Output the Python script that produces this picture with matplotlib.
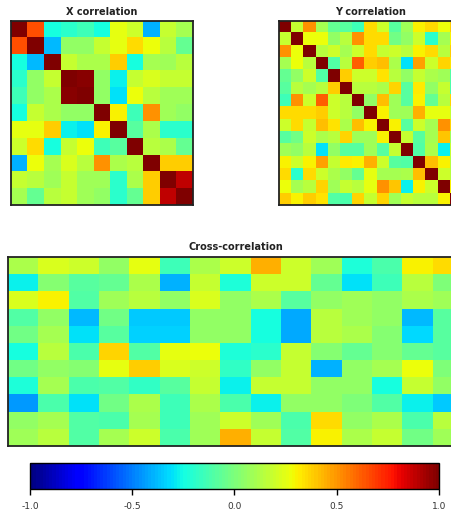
import numpy as np
import matplotlib
matplotlib.use("Agg")
import matplotlib.pyplot as plt
from matplotlib.colors import Normalize
from matplotlib.cm import ScalarMappable

plt.rcParams['font.family'] = ['DejaVu Sans']

# correlation among the 11 X variables
x_corr = [
    [1.00, 0.65, -0.25, -0.20, -0.15, -0.25, 0.25, 0.20, -0.40, 0.18, 0.10],
    [0.65, 1.00, -0.38, 0.05, 0.05, 0.18, 0.25, 0.35, 0.28, 0.15, -0.05],
    [-0.25, -0.38, 1.00, 0.18, 0.12, 0.12, 0.38, -0.25, 0.10, 0.08, 0.15],
    [-0.20, 0.05, 0.18, 1.00, 0.98, 0.05, -0.28, 0.18, 0.22, 0.18, 0.18],
    [-0.15, 0.05, 0.12, 0.98, 1.00, 0.05, -0.30, 0.28, 0.15, 0.08, 0.08],
    [-0.25, 0.18, 0.12, 0.05, 0.05, 1.00, 0.30, -0.15, 0.50, 0.08, 0.05],
    [0.25, 0.25, 0.38, -0.28, -0.30, 0.30, 1.00, -0.08, 0.12, -0.20, -0.20],
    [0.20, 0.35, -0.25, 0.18, 0.28, -0.15, -0.08, 1.00, 0.15, 0.12, -0.05],
    [-0.40, 0.28, 0.10, 0.22, 0.15, 0.50, 0.12, 0.15, 1.00, 0.38, 0.38],
    [0.18, 0.15, 0.08, 0.18, 0.08, 0.08, -0.20, 0.12, 0.38, 1.00, 0.88],
    [0.10, -0.05, 0.15, 0.18, 0.08, 0.05, -0.20, -0.05, 0.38, 0.88, 1.00],
]

# correlation among the 15 Y variables
y_corr = [
    [1.00, 0.18, 0.50, 0.10, -0.05, -0.08, -0.15, 0.35, 0.20, -0.08, 0.08, 0.30, 0.35, 0.28, 0.38],
    [0.18, 1.00, 0.28, 0.28, 0.05, 0.15, 0.50, 0.35, 0.35, -0.02, 0.05, 0.20, -0.20, 0.10, 0.30],
    [0.50, 0.28, 1.00, 0.15, 0.20, 0.10, 0.20, 0.35, 0.18, 0.20, 0.15, 0.30, 0.35, 0.15, 0.38],
    [0.10, 0.28, 0.15, 1.00, -0.10, 0.15, 0.62, 0.38, 0.42, 0.12, -0.30, 0.48, 0.20, 0.36, 0.33],
    [-0.05, 0.05, 0.20, -0.10, 1.00, 0.38, 0.20, 0.20, 0.33, 0.15, 0.05, 0.18, 0.12, 0.08, -0.10],
    [-0.08, 0.15, 0.10, 0.15, 0.38, 1.00, 0.15, 0.15, 0.12, 0.36, -0.08, 0.32, 0.06, 0.18, -0.12],
    [-0.15, 0.50, 0.20, 0.62, 0.20, 0.15, 1.00, 0.05, 0.42, 0.08, -0.08, 0.30, -0.05, 0.15, 0.36],
    [0.35, 0.35, 0.35, 0.38, 0.20, 0.15, 0.05, 1.00, 0.30, 0.08, 0.08, 0.45, 0.25, 0.25, 0.18],
    [0.20, 0.35, 0.18, 0.42, 0.33, 0.12, 0.42, 0.30, 1.00, 0.30, -0.08, 0.20, 0.10, 0.50, 0.36],
    [-0.08, -0.02, 0.20, 0.12, 0.15, 0.36, 0.08, 0.08, 0.30, 1.00, 0.18, -0.08, 0.10, 0.40, 0.08],
    [0.08, 0.05, 0.15, -0.30, 0.05, -0.08, -0.08, 0.08, -0.08, 0.18, 1.00, -0.10, 0.12, -0.28, 0.18],
    [0.30, 0.20, 0.30, 0.48, 0.18, 0.32, 0.30, 0.45, 0.20, -0.08, -0.10, 1.00, 0.42, 0.30, 0.15],
    [0.35, -0.20, 0.35, 0.20, 0.12, 0.06, -0.05, 0.25, 0.10, 0.10, 0.12, 0.42, 1.00, 0.20, 0.15],
    [0.28, 0.10, 0.15, 0.36, 0.08, 0.18, 0.15, 0.25, 0.50, 0.40, -0.28, 0.30, 0.20, 1.00, 0.30],
    [0.38, 0.30, 0.38, 0.33, -0.10, -0.12, 0.36, 0.18, 0.36, 0.08, 0.18, 0.15, 0.15, 0.30, 1.00],
]

# cross-correlation X (rows) vs Y (columns)
xy_corr = [
    [0.12, 0.22, 0.20, 0.05, 0.25, -0.15, 0.12, 0.20, 0.45, 0.20, 0.08, -0.22, -0.12, 0.30, 0.35],
    [-0.28, 0.02, -0.08, -0.05, 0.12, -0.40, 0.18, -0.22, 0.20, 0.20, -0.05, -0.30, -0.15, 0.15, 0.00],
    [0.22, 0.30, -0.10, 0.08, 0.15, 0.05, 0.22, 0.05, 0.12, -0.08, 0.05, 0.08, 0.05, 0.12, 0.08],
    [-0.10, 0.05, -0.38, -0.02, -0.35, -0.35, 0.05, 0.05, -0.25, -0.42, 0.15, 0.08, 0.05, -0.38, -0.08],
    [-0.03, 0.10, -0.30, -0.08, -0.33, -0.33, 0.05, 0.05, -0.25, -0.42, 0.15, 0.12, 0.02, -0.32, -0.08],
    [-0.25, 0.15, -0.12, 0.37, -0.10, 0.25, 0.28, -0.22, -0.20, 0.18, 0.02, -0.05, 0.02, -0.05, -0.08],
    [-0.02, 0.05, 0.02, 0.25, 0.38, 0.22, 0.20, -0.18, 0.05, 0.18, -0.40, 0.05, 0.10, 0.28, 0.00],
    [-0.22, 0.10, -0.12, -0.10, -0.18, -0.08, 0.18, -0.27, 0.18, 0.18, 0.05, 0.05, -0.25, 0.18, 0.05],
    [-0.45, -0.12, -0.30, -0.02, 0.12, -0.15, 0.12, -0.12, -0.27, 0.05, 0.05, 0.00, -0.10, -0.27, -0.35],
    [0.05, 0.10, -0.10, -0.12, 0.10, -0.15, 0.08, 0.20, 0.08, -0.12, 0.35, 0.05, 0.12, -0.12, 0.15],
    [0.08, 0.15, -0.10, 0.10, 0.20, -0.12, 0.08, 0.45, 0.18, -0.10, 0.30, 0.12, 0.18, -0.02, 0.08],
]

titles = ["X correlation", "Y correlation", "Cross-correlation"]
cbar_ticks = [-1.0, -0.5, 0.0, 0.5, 1.0]
cbar_labels = ["-1.0", "-0.5", "0.0", "0.5", "1.0"]

W, H = 452, 511
cmap = plt.get_cmap('jet', 128)
norm = Normalize(vmin=-1, vmax=1)


def box(l, t, r, b):
    return [l / W, (H - b) / H, (r - l) / W, (b - t) / H]


fig = plt.figure(figsize=(W / 100, H / 100), dpi=100)

panels = [
    (x_corr, box(11, 21, 193, 205.5)),
    (y_corr, box(279.3, 21.3, 462.3, 205.3)),
    (xy_corr, box(8, 256.7, 463, 445.7)),
]

for (mat, rect), title in zip(panels, titles):
    ax = fig.add_axes(rect)
    ax.imshow(np.array(mat), cmap=cmap, norm=norm, aspect='auto',
              interpolation='nearest')
    ax.set_xticks([])
    ax.set_yticks([])
    for s in ax.spines.values():
        s.set_linewidth(1.3)
        s.set_color('#222222')
    ax.set_title(title, fontsize=7, fontweight='bold', pad=4.5, color='#222222')

cax = fig.add_axes(box(30, 462.7, 439, 489))
cb = fig.colorbar(ScalarMappable(norm=norm, cmap=cmap), cax=cax,
                  orientation='horizontal')
cb.outline.set_linewidth(1.0)
cb.set_ticks(cbar_ticks)
cb.set_ticklabels(cbar_labels)
cax.tick_params(axis='x', length=4, width=1, labelsize=6.5, pad=5,
                labelcolor='#333333')

fig.savefig('out.png', dpi=100)
